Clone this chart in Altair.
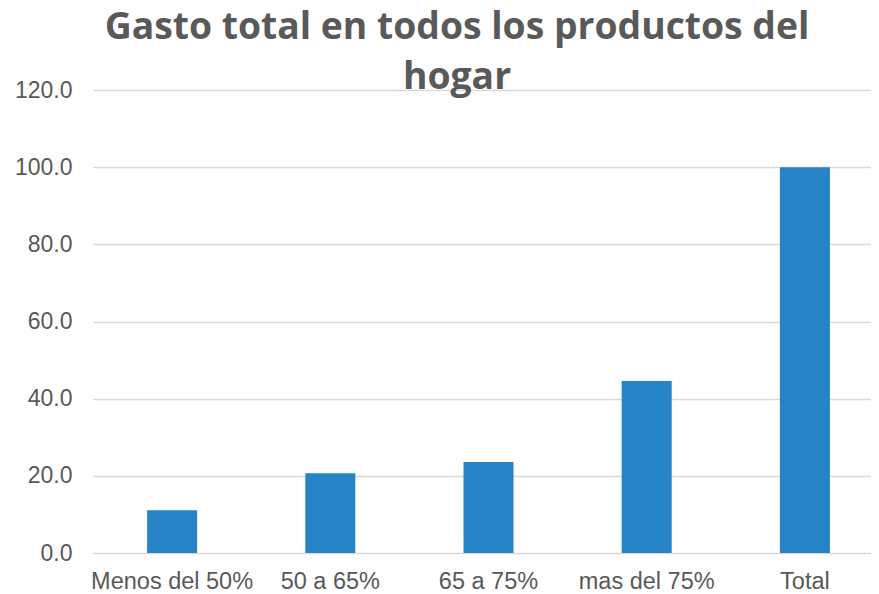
import altair as alt
import pandas as pd

categorias = ["Menos del 50%", "50 a 65%", "65 a 75%", "mas del 75%", "Total"]
valores = [11.1, 20.7, 23.6, 44.6, 100.0]

df = pd.DataFrame({"cat": categorias, "val": valores})

chart = alt.Chart(df).mark_bar(color="#2683C6", size=50).encode(
    x=alt.X("cat:N", sort=categorias, title=None,
            scale=alt.Scale(paddingInner=0, paddingOuter=0, range=[0, 791]),
            axis=alt.Axis(labelAngle=0, labelFont="Liberation Sans", labelFontSize=23.5,
                          labelColor="#595959", ticks=False, domain=False, labelPadding=16)),
    y=alt.Y("val:Q", title=None,
            scale=alt.Scale(domain=[0, 120]),
            axis=alt.Axis(values=[0, 20, 40, 60, 80, 100, 120], format=".1f",
                          labelFont="Liberation Sans", labelFontSize=23, labelColor="#595959",
                          ticks=False, domain=False, labelPadding=21,
                          gridColor="#D9D9D9", gridWidth=1.5)),
).properties(
    width=778,
    height=463,
    autosize=alt.AutoSizeParams(type="none"),
    padding={"left": 85, "top": 82, "right": 0, "bottom": 40},
    title=alt.TitleParams(
        text=["Gasto total en todos los productos del", "hogar"],
        font="Open Sans", fontSize=37.3, fontWeight="bold", color="#595959",
        anchor="middle", baseline="alphabetic", lineHeight=50, offset=2, dx=-25, dy=49,
    ),
).configure_view(stroke=None)

chart.save("out.html", embed_options={"renderer": "svg", "actions": False})
